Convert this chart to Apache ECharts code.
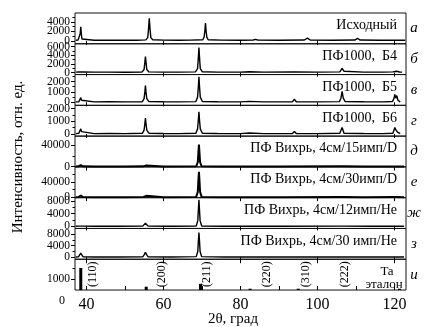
<!DOCTYPE html>
<html>
<head>
<meta charset="utf-8">
<script src="https://cdn.jsdelivr.net/npm/echarts@6/dist/echarts.min.js"></script>
<style>
html,body{margin:0;padding:0;background:#fff}
#c{width:424px;height:327px}
</style>
</head>
<body>
<div id="c"></div>
<script>
// X-ray diffraction patterns of tantalum samples, [2θ (deg), intensity]
const patternInitial = [[37.2,150],[37.8,170],[38.2,400],[38.35,1500],[38.5,3000],[38.65,1500],[38.8,400],[39.3,200],[42,160],[46,140],[50,160],[53,150],[55.4,220],[55.9,700],[56.1,2500],[56.3,4800],[56.5,2500],[56.7,700],[57.2,250],[60,170],[64,150],[67,170],[70.2,250],[70.55,800],[70.75,2200],[70.9,3800],[71.05,2200],[71.25,800],[71.6,250],[75,170],[80,150],[83.3,190],[83.9,330],[84.5,190],[90,150],[96.6,200],[97.4,600],[98.1,200],[104,160],[109.7,190],[110.4,520],[111.1,190],[116,150],[121,150],[122.8,150]];
const patternB4 = [[37.2,100],[38.0,120],[38.5,420],[39.0,120],[42,100],[46,110],[50,90],[54.4,120],[54.95,700],[55.15,2400],[55.3,3700],[55.45,2400],[55.65,700],[56.2,150],[60,110],[64,100],[68.3,150],[68.85,900],[69.05,3500],[69.2,5800],[69.35,3500],[69.55,900],[70.1,180],[74,110],[80,100],[82.3,180],[86,100],[93.5,120],[94,320],[94.5,120],[100,100],[105.8,150],[106.4,950],[106.9,300],[107.3,150],[112,110],[117,100],[119.6,150],[120.1,480],[120.5,300],[120.8,380],[121.3,120],[122,100]];
const patternB5 = [[37.2,40],[38.0,60],[38.3,200],[38.5,450],[38.7,200],[39.1,60],[42,40],[46,50],[50,40],[54.5,60],[54.95,350],[55.15,1000],[55.3,1620],[55.45,1000],[55.65,350],[56.2,70],[60,50],[64,40],[68.4,70],[68.85,500],[69.05,1500],[69.2,2450],[69.35,1500],[69.55,500],[70.1,80],[74,50],[80,40],[82.3,90],[86,40],[93.5,60],[94,300],[94.5,60],[100,40],[105.7,70],[106.1,400],[106.4,1050],[106.7,400],[107.2,70],[112,50],[117,40],[119.5,80],[119.9,400],[120.1,760],[120.35,400],[120.6,650],[120.9,200],[121.5,40]];
const patternB6 = [[37.2,30],[38.0,50],[38.3,180],[38.5,400],[38.7,180],[39.1,50],[42,30],[46,40],[50,30],[54.5,50],[54.95,300],[55.15,800],[55.3,1250],[55.45,800],[55.65,300],[56.2,60],[60,40],[64,30],[68.4,60],[68.85,400],[69.05,1100],[69.2,1750],[69.35,1100],[69.55,400],[70.1,60],[74,40],[80,30],[82.3,70],[86,30],[93.5,40],[94,200],[94.5,40],[100,30],[105.8,60],[106.4,500],[106.9,60],[112,40],[117,30],[119.6,60],[120.1,500],[120.4,300],[120.6,450],[120.9,120],[121.5,30]];
const patternV15D = [[37.2,0],[37.9,300],[38.3,2000],[38.5,2600],[38.7,2000],[39.1,300],[42,0],[50,0],[54.8,300],[55.1,2000],[55.3,2600],[55.5,2000],[55.8,300],[60,0],[68.5,500],[68.9,8000],[69.05,25000],[69.2,41000],[69.35,25000],[69.5,8000],[69.9,500],[75,0],[90,0],[105.9,300],[106.4,2500],[106.9,300],[112,0],[119.7,200],[120.1,1200],[120.5,200],[122.5,0]];
const patternV30D = [[37.2,0],[37.9,500],[38.3,3500],[38.5,4500],[38.7,3500],[39.1,500],[42,0],[50,0],[54.8,500],[55.1,3500],[55.3,4500],[55.5,3500],[55.8,500],[60,0],[68.5,800],[68.9,14000],[69.05,42000],[69.2,67000],[69.35,42000],[69.5,14000],[69.9,800],[75,0],[90,0],[105.9,400],[106.4,3500],[106.9,400],[112,0],[119.7,300],[120.1,1500],[120.5,300],[122.5,0]];
const patternV12He = [[37.2,50],[38.0,80],[38.5,600],[39.0,80],[42,50],[48,60],[54.6,80],[55.0,500],[55.3,1000],[55.6,500],[56.0,80],[62,60],[68.5,150],[68.9,1800],[69.05,5000],[69.2,8300],[69.35,5000],[69.5,1800],[69.9,150],[76,60],[90,50],[105.9,100],[106.4,700],[106.9,100],[114,50],[119.7,60],[120.1,300],[120.5,60],[122.5,50]];
const patternV30He = [[37.2,60],[37.9,150],[38.2,800],[38.5,1400],[38.8,800],[39.1,150],[42,60],[48,70],[54.6,150],[55.0,900],[55.3,1700],[55.6,900],[56.0,150],[62,70],[68.5,200],[68.9,2000],[69.05,5500],[69.2,8600],[69.35,5500],[69.5,2000],[69.9,200],[76,70],[90,60],[105.9,100],[106.4,500],[106.9,100],[114,60],[119.6,100],[120.1,700],[120.6,100],[122.5,60]];

// Ta reference lines
const taAngle = [38.5, 55.5, 69.6, 82.5, 95.0, 121.3];
const taIntensity = [1500, 650, 780, 560, 560, 560];
const taIndices = ['(110)', '(200)', '(211)', '(220)', '(310)', '(222)'];

// labels
const sampleNames = ['Исходный', 'ПФ1000,  Б4', 'ПФ1000,  Б5', 'ПФ1000,  Б6',
  'ПФ Вихрь, 4см/15имп/D', 'ПФ Вихрь, 4см/30имп/D', 'ПФ Вихрь, 4см/12имп/He', 'ПФ Вихрь, 4см/30 имп/He'];
const panelLetters = ['а', 'б', 'в', 'г', 'д', 'е', 'ж', 'з', 'и'];
const xTickLabels = [40, 60, 80, 100, 120];
const xMinorTicks = [40, 50, 60, 70, 80, 90, 100, 110, 120];

// intensity scales per panel
const yMajor = [[0,2000,4000],[0,2000,4000,6000],[0,1000,2000],[0,1000,2000],[0,40000],[0,40000],[0,4000,8000],[0,4000,8000],[1000]];
const yMinor = [[1000,3000,5000],[1000,3000,5000],[500,1500,2500],[500,1500],[20000],[20000,60000],[2000,6000],[2000,6000],[1500]];
const yMin = [-600, -460, -290, -170, -700, -1300, -640, -700, 500];
const yMax = [5900, 6650, 2670, 2250, 57000, 80000, 8960, 10000, 1900];

const patterns = [patternInitial, patternB4, patternB5, patternB6, patternV15D, patternV30D, patternV12He, patternV30He];

// layout
const FONT = 'Liberation Serif';
const LEFT = 75, RIGHT = 406, TOP = 13, PH = 30.78;
const W = RIGHT - LEFT;
const X_MIN = 37, X_MAX = 123;

const grids = [], xAxes = [], yAxes = [], series = [], graphics = [];
const plain = v => String(v);

for (let i = 0; i < 9; i++) {
  const top = TOP + i * PH;
  grids.push({left: LEFT, top: top, width: W, height: PH, show: true,
    borderColor: '#111', borderWidth: 1, backgroundColor: 'transparent'});
  xAxes.push({type: 'value', gridIndex: i, position: 'top', min: X_MIN, max: X_MAX,
    axisLine: {show: false}, splitLine: {show: false}, axisLabel: {show: false},
    axisTick: {show: true, inside: true, length: 4, customValues: xTickLabels, lineStyle: {color: '#000'}}});
  // value axis of the panel, with the major ticks
  yAxes.push({type: 'value', gridIndex: i, position: 'left', min: yMin[i], max: yMax[i],
    axisLine: {show: false}, splitLine: {show: false}, axisLabel: {show: false},
    axisTick: {show: true, length: 4, customValues: yMajor[i], lineStyle: {color: '#000'}}});
  // minor ticks
  yAxes.push({type: 'value', gridIndex: i, position: 'left', min: yMin[i], max: yMax[i],
    axisLine: {show: false}, splitLine: {show: false}, axisLabel: {show: false},
    axisTick: {show: true, length: 2.5, customValues: yMinor[i], lineStyle: {color: '#000'}}});
  graphics.push({type: 'text', x: 414, y: top + PH / 2,
    style: {text: panelLetters[i], font: 'italic 15px "' + FONT + '"', fill: '#000', textAlign: 'center', textVerticalAlign: 'middle'}});
  if (i < 8) {
    const heavy = (i === 4 || i === 5);
    series.push({type: 'line', xAxisIndex: i, yAxisIndex: 2 * i, data: patterns[i],
      showSymbol: false, symbol: 'none', clip: true,
      lineStyle: {color: '#000', width: heavy ? 2 : 1.4}});
    graphics.push({type: 'text', x: 397, y: top + 12.5,
      style: {text: sampleNames[i], font: '14px "' + FONT + '"', fill: '#000', textAlign: 'right', textVerticalAlign: 'middle'}});
  }
}

// bottom axis with the 2θ scale
xAxes.push({type: 'value', gridIndex: 8, position: 'bottom', min: X_MIN, max: X_MAX,
  axisLine: {show: false}, splitLine: {show: false},
  axisTick: {show: true, inside: true, length: 4, customValues: xMinorTicks, lineStyle: {color: '#000'}},
  axisLabel: {show: true, customValues: xTickLabels, margin: 7, formatter: plain,
    showMinLabel: true, showMaxLabel: true,
    fontFamily: FONT, fontSize: 16, color: '#000'}});

series.push({type: 'bar', xAxisIndex: 9, yAxisIndex: 16, barWidth: 3, clip: true,
  itemStyle: {color: '#000'},
  data: taAngle.map((a, k) => [a, taIntensity[k]])});

const botTop = TOP + 8 * PH;
graphics.push({type: 'text', x: 62, y: 301,
  style: {text: '0', font: '12px "' + FONT + '"', fill: '#000', textAlign: 'center', textVerticalAlign: 'middle'}});
graphics.push({type: 'text', x: 387, y: botTop + 12,
  style: {text: 'Ta', font: '13px "' + FONT + '"', fill: '#000', textAlign: 'center', textVerticalAlign: 'middle'}});
graphics.push({type: 'text', x: 384, y: botTop + 25,
  style: {text: 'эталон', font: '13px "' + FONT + '"', fill: '#000', textAlign: 'center', textVerticalAlign: 'middle'}});

// Miller indices, written upward next to each reference line
const hklX = [93, 162, 207, 267, 306, 345];
taIndices.forEach((t, k) => {
  graphics.push({type: 'text', x: hklX[k], y: botTop + 15, rotation: Math.PI / 2,
    style: {text: t, font: '12px "' + FONT + '"', fill: '#000', textAlign: 'center', textVerticalAlign: 'middle'}});
});

// axis titles
graphics.push({type: 'text', x: 18, y: 157, rotation: Math.PI / 2,
  style: {text: 'Интенсивность, отн. ед.', font: '15px "' + FONT + '"', fill: '#000', textAlign: 'center', textVerticalAlign: 'middle'}});
graphics.push({type: 'text', x: 233, y: 319,
  style: {text: '2θ, град', font: '15px "' + FONT + '"', fill: '#000', textAlign: 'center', textVerticalAlign: 'middle'}});

const chart = echarts.init(document.getElementById('c'));
chart.setOption({
  animation: false,
  backgroundColor: '#fff',
  grid: grids,
  xAxis: xAxes,
  yAxis: yAxes,
  series: series
});

// intensity tick labels, placed through each panel's value axis
// (neighbouring labels sit close together, so they are drawn as plain text)
for (let i = 0; i < 9; i++) {
  yMajor[i].forEach(v => {
    const py = chart.convertToPixel({yAxisIndex: 2 * i}, v);
    graphics.push({type: 'text', x: LEFT - 5, y: py,
      style: {text: plain(v), font: '11.5px "' + FONT + '"', fill: '#000', textAlign: 'right', textVerticalAlign: 'middle'}});
  });
}
chart.setOption({graphic: graphics});
</script>
</body>
</html>
